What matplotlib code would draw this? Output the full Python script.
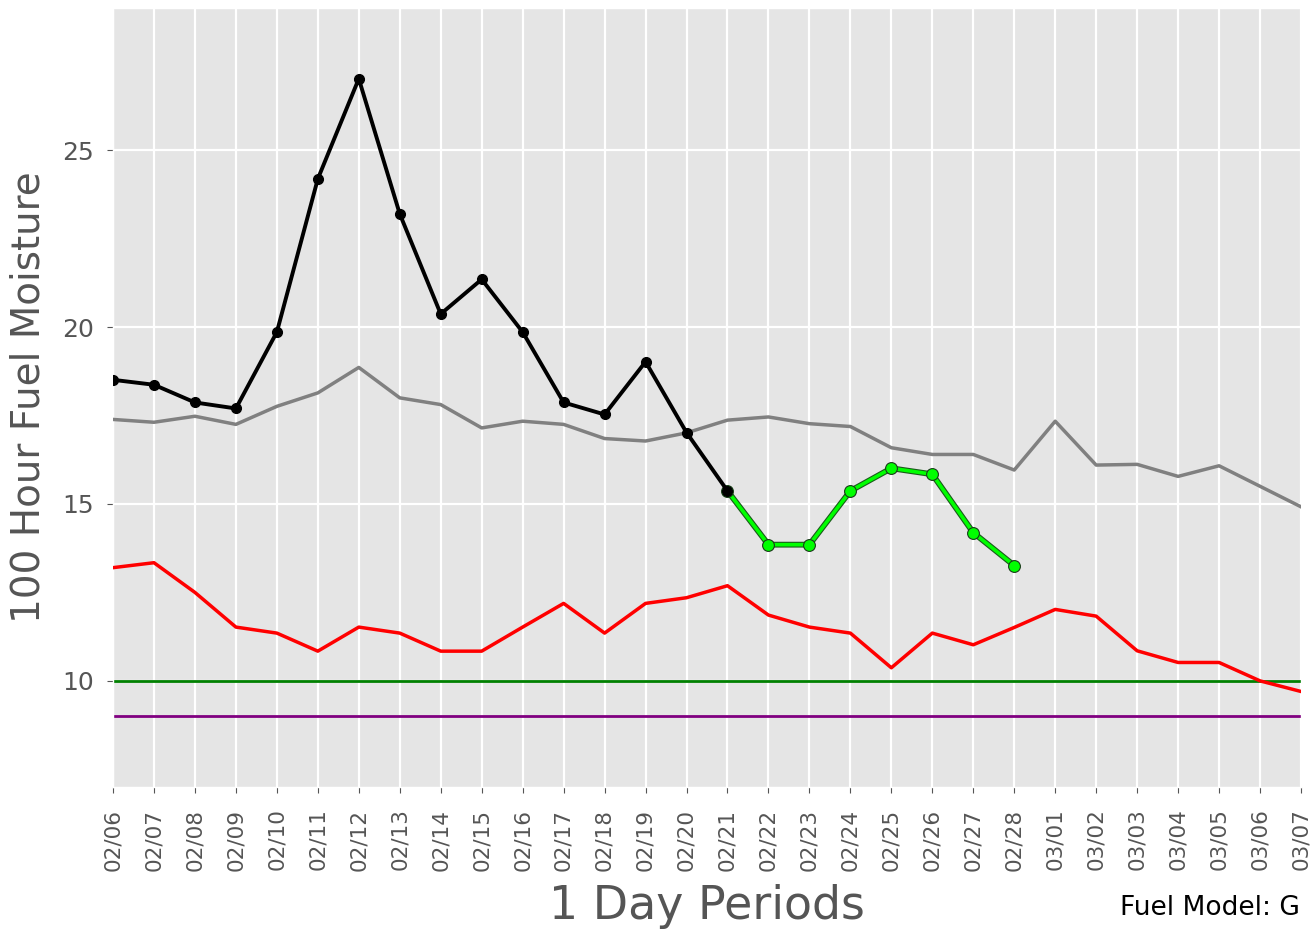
import matplotlib
matplotlib.use("Agg")
import matplotlib.pyplot as plt
import numpy as np

# day labels for the x axis
days = ["02/06", "02/07", "02/08", "02/09", "02/10", "02/11", "02/12", "02/13",
        "02/14", "02/15", "02/16", "02/17", "02/18", "02/19", "02/20", "02/21",
        "02/22", "02/23", "02/24", "02/25", "02/26", "02/27", "02/28", "03/01",
        "03/02", "03/03", "03/04", "03/05", "03/06", "03/07"]

# observed 100 hr fuel moisture (02/06 - 02/21)
observed = [18.51, 18.37, 17.87, 17.70, 19.86, 24.19, 27.02, 23.20, 20.37,
            21.35, 19.86, 17.87, 17.53, 19.02, 17.02, 15.37]
# forecast (02/21 - 02/28)
forecast = [15.37, 13.85, 13.85, 15.37, 16.01, 15.84, 14.19, 13.26]
# average and minimum climatology
average = [17.39, 17.31, 17.48, 17.25, 17.76, 18.14, 18.86, 18.00, 17.81,
           17.15, 17.34, 17.25, 16.85, 16.78, 17.01, 17.37, 17.46, 17.27,
           17.19, 16.59, 16.40, 16.40, 15.96, 17.34, 16.10, 16.12, 15.78,
           16.08, 15.50, 14.92]
minimum = [13.20, 13.34, 12.50, 11.52, 11.35, 10.84, 11.52, 11.35, 10.84,
           10.84, 11.52, 12.19, 11.35, 12.19, 12.35, 12.69, 11.86, 11.52,
           11.35, 10.37, 11.35, 11.02, 11.51, 12.02, 11.83, 10.85, 10.52,
           10.52, 10.00, 9.70]
# thresholds
threshold_1 = 10
threshold_2 = 9
fuel_model = "G"

plt.style.use('ggplot')
fig = plt.figure(figsize=(13.1, 9.33), dpi=100)
ax = fig.add_subplot(111)
fig.subplots_adjust(left=113/1310, right=1301/1310, top=1-8/933, bottom=1-787/933)

x_all = np.arange(len(days))
x_obs = x_all[:len(observed)]
x_fc = x_all[len(observed)-1:len(observed)-1+len(forecast)]

ax.plot(x_all, average, color='gray', lw=2.5, zorder=3)
ax.plot(x_all, minimum, color='red', lw=2.5, zorder=3)
ax.axhline(threshold_1, color='green', lw=2, zorder=2)
ax.axhline(threshold_2, color='purple', lw=2, zorder=2)
# forecast: dark outline under a lime line
ax.plot(x_fc, forecast, color='#1a5a1a', lw=4.2, zorder=4,
        solid_capstyle='round')
ax.plot(x_fc, forecast, color='#00ff00', lw=2.6, marker='o', ms=8.5,
        mfc='#00ff00', mec='#1a3a1a', mew=0.8, zorder=5)
ax.plot(x_obs, observed, color='black', lw=2.8, marker='o', ms=7, zorder=6)

ax.set_xlim(x_all[0], x_all[-1])
ax.set_ylim(threshold_2 - 2, max(observed) + 2)
ax.set_xticks(x_all)
ax.set_xticklabels(days, rotation=90)
ax.set_yticks([10, 15, 20, 25])
ax.tick_params(axis='x', labelsize=15.5, length=4.5, pad=11)
ax.tick_params(axis='y', labelsize=18, length=4.5, pad=9.5)
ax.grid(True, color='white', lw=1.6)

ax.set_xlabel("1 Day Periods", fontsize=33, color='#555555')
ax.xaxis.set_label_coords(0.5, -0.125)
ax.set_ylabel("100 Hour Fuel Moisture", fontsize=28, color='#555555')
ax.yaxis.set_label_coords(-0.055, 0.5)
fig.text(1300/1310, 1-908/933, "Fuel Model: " + fuel_model, fontsize=19,
         ha='right', va='center', color='black')

fig.savefig("out.png", dpi=100)
